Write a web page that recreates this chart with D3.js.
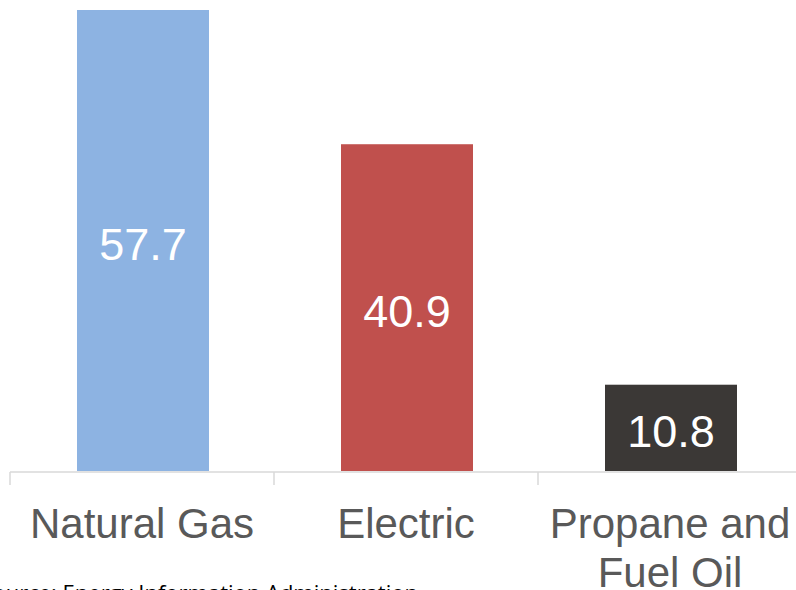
<!DOCTYPE html>
<html>
<head>
<meta charset="utf-8">
<script src="https://cdn.jsdelivr.net/npm/d3@7/dist/d3.min.js"></script>
<style>
  body { margin: 0; background: #fff; }
  svg { display: block; }
</style>
</head>
<body>
<script>
// data //
const categories = ["Natural Gas", "Electric", "Propane and\nFuel Oil"];
const values = [57.7, 40.9, 10.8];
const barColors = ["#8db3e2", "#c0504d", "#3b3836"];
const sourceText = "Source: Energy Information Administration";

const width = 796;
const height = 590;
const baseline = 471;

const svg = d3.select("body")
  .append("svg")
  .attr("width", width)
  .attr("height", height);

// scales //
const x = d3.scaleBand()
  .domain(categories)
  .range([10, 802])
  .paddingInner(0.5)
  .paddingOuter(0.25);

const y = d3.scaleLinear()
  .domain([0, 57.7])
  .range([baseline, 10]);

// bars //
svg.selectAll("rect.bar")
  .data(categories)
  .enter()
  .append("rect")
  .attr("class", "bar")
  .attr("x", d => x(d) + 1)
  .attr("y", (d, i) => y(values[i]))
  .attr("width", x.bandwidth())
  .attr("height", (d, i) => y(0) - y(values[i]))
  .attr("fill", (d, i) => barColors[i]);

// value labels //
svg.selectAll("text.value")
  .data(categories)
  .enter()
  .append("text")
  .attr("class", "value")
  .attr("x", d => x(d) + 1 + x.bandwidth() / 2)
  .attr("y", (d, i) => (y(values[i]) + y(0)) / 2 + 19)
  .attr("text-anchor", "middle")
  .attr("fill", "#fff")
  .style("font-family", "'Liberation Sans', Arial, sans-serif")
  .style("font-size", "45px")
  .text((d, i) => values[i].toFixed(1));

// axis line and boundary ticks //
const edges = categories.map(d => x(d) - x.step() * x.paddingInner() / 2);
edges.push(x.range()[1]);

svg.append("line")
  .attr("x1", 10)
  .attr("x2", width)
  .attr("y1", baseline + 1)
  .attr("y2", baseline + 1)
  .attr("stroke", "#d9d9d9")
  .attr("stroke-width", 1.5);

svg.selectAll("line.tick")
  .data(edges)
  .enter()
  .append("line")
  .attr("class", "tick")
  .attr("x1", d => d)
  .attr("x2", d => d)
  .attr("y1", baseline + 1)
  .attr("y2", baseline + 14)
  .attr("stroke", "#d9d9d9")
  .attr("stroke-width", 1.5);

// category labels //
const labels = svg.selectAll("text.cat")
  .data(categories)
  .enter()
  .append("text")
  .attr("class", "cat")
  .attr("text-anchor", "middle")
  .attr("fill", "#595959")
  .style("font-family", "'Liberation Sans', Arial, sans-serif")
  .style("font-size", "42px");

labels.each(function(d) {
  const cx = x(d) + x.bandwidth() / 2;
  d.split("\n").forEach((line, k) => {
    d3.select(this).append("tspan")
      .attr("x", cx)
      .attr("y", 538 + k * 49)
      .text(line);
  });
});

// source //
svg.append("text")
  .attr("x", 418)
  .attr("y", 601)
  .attr("text-anchor", "end")
  .attr("fill", "#000")
  .style("font-family", "'Open Sans', sans-serif")
  .style("font-size", "22px")
  .text(sourceText);
</script>
</body>
</html>
